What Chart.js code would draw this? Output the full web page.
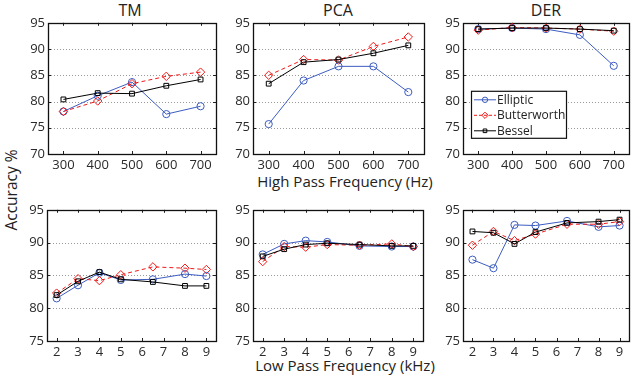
<!DOCTYPE html>
<html><head><meta charset="utf-8">
<script src="https://cdn.jsdelivr.net/npm/chart.js@4.4.0/dist/chart.umd.min.js"></script>
<style>
html,body{margin:0;padding:0;background:#fff;}
#wrap{position:relative;width:632px;height:380px;overflow:hidden;font-family:'Open Sans',sans-serif;color:#222;}
canvas{position:absolute;}
.t{position:absolute;white-space:nowrap;transform:translate(-50%,-50%);line-height:1;}
</style></head><body><div id="wrap">
<div class="t" style="left:130px;top:10px;font-size:16px">TM</div>
<div class="t" style="left:338px;top:10px;font-size:16px">PCA</div>
<div class="t" style="left:546px;top:10px;font-size:16px">DER</div>
<div class="t" style="left:345px;top:181px;font-size:15px">High Pass Frequency (Hz)</div>
<div class="t" style="left:345px;top:365px;font-size:15px">Low Pass Frequency (kHz)</div>
<div class="t" style="left:12px;top:190px;font-size:15.5px;transform:translate(-50%,-50%) rotate(-90deg)">Accuracy %</div>
</div>
<script>
// ---- data ----
const hpFreq = [300, 400, 500, 600, 700];
const lpFreq = [2, 3, 4, 5, 6.5, 8, 9];
const hpTicks = [300, 400, 500, 600, 700];
const lpTicks = [2, 3, 4, 5, 6, 7, 8, 9];
const topYTicks = [70, 75, 80, 85, 90, 95];
const botYTicks = [75, 80, 85, 90, 95];
const seriesNames = ['Elliptic', 'Butterworth', 'Bessel'];

const tmHpElliptic = [78.1, 81.1, 83.7, 77.6, 79.1];
const tmHpButter   = [78.1, 80.1, 83.4, 84.8, 85.6];
const tmHpBessel   = [80.4, 81.6, 81.5, 83.0, 84.2];
const pcaHpElliptic = [75.7, 84.0, 86.7, 86.7, 81.8];
const pcaHpButter   = [85.0, 88.0, 87.9, 90.5, 92.3];
const pcaHpBessel   = [83.4, 87.5, 88.0, 89.2, 90.7];
const derHpElliptic = [93.8, 94.0, 93.8, 92.7, 86.8];
const derHpButter   = [93.6, 94.1, 94.0, 93.8, 93.4];
const derHpBessel   = [93.8, 94.0, 94.0, 93.8, 93.5];

const tmLpElliptic = [81.5, 83.5, 85.4, 84.3, 84.4, 85.2, 84.9];
const tmLpButter   = [82.3, 84.5, 84.2, 85.1, 86.3, 86.1, 85.9];
const tmLpBessel   = [82.0, 84.1, 85.5, 84.4, 84.0, 83.4, 83.4];
const pcaLpElliptic = [88.2, 89.8, 90.3, 90.1, 89.5, 89.4, 89.4];
const pcaLpButter   = [87.1, 89.4, 89.3, 89.7, 89.6, 89.8, 89.4];
const pcaLpBessel   = [87.9, 89.0, 89.7, 89.9, 89.7, 89.5, 89.5];
const derLpElliptic = [87.4, 86.1, 92.7, 92.6, 93.3, 92.4, 92.6];
const derLpButter   = [89.6, 91.7, 90.3, 91.3, 92.8, 92.8, 93.2];
const derLpBessel   = [91.7, 91.5, 89.8, 91.6, 93.0, 93.2, 93.5];

// ---- styles ----
const styles = [
  {color: '#3c5cc0', dash: [], pointStyle: 'circle', radius: 3.6, order: 3},
  {color: '#f01818', dash: [4, 3], pointStyle: 'rectRot', radius: 4.2, order: 2},
  {color: '#000000', dash: [], pointStyle: 'rect', radius: 3.4, order: 1}
];
const FONT = "'Open Sans', sans-serif";
const LEFT = 36, TOP = 8, RIGHT = 8, BOTTOM = 22;

const framePlugin = {
  id: 'frame',
  beforeDatasetsDraw(chart) {
    const {ctx, chartArea: a, scales: {x, y}} = chart;
    const o = chart.options.plugins.frame;
    ctx.save();
    ctx.strokeStyle = '#9a9a9a';
    ctx.lineWidth = 1;
    ctx.setLineDash([1, 2]);
    o.yTicks.forEach(v => {
      const py = Math.round(y.getPixelForValue(v)) + 0.5;
      ctx.beginPath(); ctx.moveTo(a.left, py); ctx.lineTo(a.right, py); ctx.stroke();
    });
    ctx.setLineDash([]);
    ctx.strokeStyle = '#222';
    const tl = 3;
    o.xTicks.forEach(v => {
      const px = Math.round(x.getPixelForValue(v)) + 0.5;
      ctx.beginPath();
      ctx.moveTo(px, a.bottom); ctx.lineTo(px, a.bottom - tl);
      ctx.moveTo(px, a.top); ctx.lineTo(px, a.top + tl);
      ctx.stroke();
    });
    o.yTicks.forEach(v => {
      const py = Math.round(y.getPixelForValue(v)) + 0.5;
      ctx.beginPath();
      ctx.moveTo(a.left, py); ctx.lineTo(a.left + tl, py);
      ctx.moveTo(a.right, py); ctx.lineTo(a.right - tl, py);
      ctx.stroke();
    });
    ctx.strokeStyle = '#111';
    ctx.lineWidth = 1.3;
    ctx.strokeRect(Math.round(a.left) + 0.5, Math.round(a.top) + 0.5,
                   Math.round(a.right - a.left), Math.round(a.bottom - a.top));
    ctx.restore();
  },
  afterDraw(chart) {
    const o = chart.options.plugins.frame;
    if (!o.legend) return;
    const {ctx, chartArea: a} = chart;
    const lx = a.left + 8, ly = a.top + 68, lw = 95, lh = 47;
    ctx.save();
    ctx.fillStyle = '#fff';
    ctx.fillRect(lx, ly, lw, lh);
    ctx.strokeStyle = '#111';
    ctx.lineWidth = 1.2;
    ctx.strokeRect(lx + 0.5, ly + 0.5, lw, lh);
    ctx.font = "12px " + FONT;
    ctx.textBaseline = 'middle';
    seriesNames.forEach((name, i) => {
      const s = styles[i];
      const cy = ly + 9 + i * 15.5;
      ctx.strokeStyle = s.color;
      ctx.lineWidth = 1;
      ctx.setLineDash(s.dash.length ? [3, 2] : []);
      ctx.beginPath(); ctx.moveTo(lx + 3, cy); ctx.lineTo(lx + 25, cy); ctx.stroke();
      ctx.setLineDash([]);
      ctx.fillStyle = 'rgba(0,0,0,0)';
      Chart.helpers.drawPoint(ctx, {pointStyle: s.pointStyle, radius: s.radius * 0.75, borderWidth: 1, rotation: 0}, lx + 14, cy);
      ctx.fillStyle = '#222';
      ctx.fillText(name, lx + 26, cy + 0.5);
    });
    ctx.restore();
  }
};

function makePanel(rect, xMin, xMax, xTicks, yMin, yMax, yTicks, xs, series, legend) {
  const cv = document.createElement('canvas');
  const w = rect[2] - rect[0], h = rect[3] - rect[1];
  const W = w + LEFT + RIGHT, H = h + TOP + BOTTOM;
  cv.width = W; cv.height = H;
  cv.style.left = (rect[0] - LEFT) + 'px';
  cv.style.top = (rect[1] - TOP) + 'px';
  cv.style.width = W + 'px'; cv.style.height = H + 'px';
  document.getElementById('wrap').appendChild(cv);
  const datasets = series.map((vals, i) => {
    const s = styles[i];
    return {
      label: seriesNames[i],
      data: xs.map((xv, j) => ({x: xv, y: vals[j]})),
      borderColor: s.color,
      borderWidth: 1,
      borderDash: s.dash,
      pointStyle: s.pointStyle,
      pointRadius: s.radius,
      pointBorderColor: s.color,
      pointBackgroundColor: 'rgba(0,0,0,0)',
      pointBorderWidth: 1,
      tension: 0,
      fill: false,
      order: s.order
    };
  });
  const tickFont = {family: FONT, size: 13};
  new Chart(cv, {
    type: 'line',
    data: {datasets},
    plugins: [framePlugin],
    options: {
      responsive: false,
      animation: false,
      devicePixelRatio: 1,
      layout: {padding: {top: TOP, right: RIGHT, left: 0, bottom: 0}},
      plugins: {legend: {display: false}, tooltip: {enabled: false},
                frame: {xTicks, yTicks, legend}},
      scales: {
        x: {
          type: 'linear', min: xMin, max: xMax,
          afterBuildTicks: sc => { sc.ticks = xTicks.map(v => ({value: v})); },
          afterFit: sc => { sc.height = BOTTOM; },
          grid: {display: false, drawTicks: false},
          border: {display: false},
          ticks: {font: tickFont, color: '#2a2a2a', padding: 3, maxRotation: 0, autoSkip: false,
                  callback: v => String(v)}
        },
        y: {
          type: 'linear', min: yMin, max: yMax,
          afterBuildTicks: sc => { sc.ticks = yTicks.map(v => ({value: v})); },
          afterFit: sc => { sc.width = LEFT; },
          grid: {display: false, drawTicks: false},
          border: {display: false},
          ticks: {font: tickFont, color: '#2a2a2a', padding: 3, autoSkip: false,
                  callback: v => String(v)}
        }
      }
    }
  });
}

const hpMin = 255, hpMax = 745, lpMin = 1.55, lpMax = 9.45;
makePanel([48, 20, 216, 154], hpMin, hpMax, hpTicks, 70, 95, topYTicks, hpFreq, [tmHpElliptic, tmHpButter, tmHpBessel], false);
makePanel([253, 20, 424, 154], hpMin, hpMax, hpTicks, 70, 95, topYTicks, hpFreq, [pcaHpElliptic, pcaHpButter, pcaHpBessel], false);
makePanel([463, 20, 629, 154], hpMin, hpMax, hpTicks, 70, 95, topYTicks, hpFreq, [derHpElliptic, derHpButter, derHpBessel], true);
makePanel([47, 207, 216, 341], lpMin, lpMax, lpTicks, 75, 95, botYTicks, lpFreq, [tmLpElliptic, tmLpButter, tmLpBessel], false);
makePanel([253, 207, 423, 341], lpMin, lpMax, lpTicks, 75, 95, botYTicks, lpFreq, [pcaLpElliptic, pcaLpButter, pcaLpBessel], false);
makePanel([463, 207, 629, 341], lpMin, lpMax, lpTicks, 75, 95, botYTicks, lpFreq, [derLpElliptic, derLpButter, derLpBessel], false);
</script>
</body></html>
